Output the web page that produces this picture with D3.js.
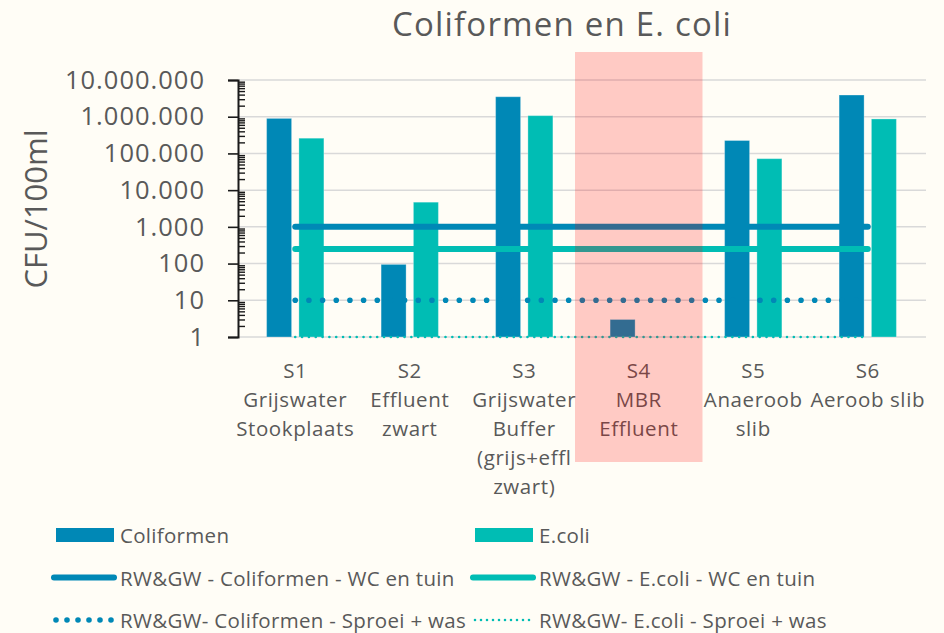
<!DOCTYPE html>
<html>
<head>
<meta charset="utf-8">
<script src="https://cdn.jsdelivr.net/npm/d3@7"></script>
<style>
  html, body { margin: 0; padding: 0; background: #fffdf6; }
  svg { display: block; }
  text { font-family: "Open Sans", "Noto Sans", sans-serif; fill: #595959; }
</style>
</head>
<body>
<svg id="chart" width="944" height="633"></svg>
<script>
// ---- data ----
const categories = ["S1", "S2", "S3", "S4", "S5", "S6"];
const categoryLabels = [
  ["S1", "Grijswater", "Stookplaats"],
  ["S2", "Effluent", "zwart"],
  ["S3", "Grijswater", "Buffer", "(grijs+effl", "zwart)"],
  ["S4", "MBR", "Effluent"],
  ["S5", "Anaeroob", "slib"],
  ["S6", "Aeroob slib"]
];
const coliformen = [900000, 95, 3500000, 3, 225000, 3900000];
const ecoli = [260000, 4700, 1070000, null, 72000, 870000];
const coliWC = [1000, 1000, 1000, 1000, 1000, 1000];
const ecoliWC = [250, 250, 250, 250, 250, 250];
const coliSproei = [10, 10, 10, 10, 10, 10];
const ecoliSproei = [1, 1, 1, 1, 1, 1];
const yTicks = [1, 10, 100, 1000, 10000, 100000, 1000000, 10000000];
const highlighted = "S4";
const title = "Coliformen en E. coli";
const yTitle = "CFU/100ml";
const barSeries = ["Coliformen", "E.coli"];
const lineSeriesNames = [
  "RW&GW - Coliformen - WC en tuin",
  "RW&GW - E.coli - WC en tuin",
  "RW&GW- Coliformen - Sproei + was",
  "RW&GW- E.coli - Sproei + was"
];

(function () {
// ---- styles ----
const C_COLI = "#0088b6";
const C_ECOLI = "#00bdb4";

const svg = d3.select("#chart");
const pLeft = 238, pRight = 925, pTop = 80, pBottom = 337;

const x = d3.scaleBand().domain(categories).range([pLeft, pRight]).padding(0);
const x1 = d3.scaleBand().domain(barSeries).range([-x.bandwidth() / 2 + 28.6, x.bandwidth() / 2 - 28.6]).paddingInner(0.226);
const y = d3.scaleLog().domain([1, 1e7]).range([pBottom, pTop]);

const nl = d3.formatLocale({ decimal: ",", thousands: ".", grouping: [3], currency: ["", ""] });
const fmt = nl.format(",d");

// background
svg.append("rect").attr("width", 944).attr("height", 633).attr("fill", "#fffdf6");

// gridlines
svg.append("g").selectAll("line").data(yTicks).join("line")
  .attr("x1", pLeft).attr("x2", pRight + 1)
  .attr("y1", d => y(d)).attr("y2", d => y(d))
  .attr("stroke", "#d9d9d9").attr("stroke-width", 1.5);

// bars
const barData = [];
categories.forEach((c, i) => {
  barData.push({ cat: c, s: "Coliformen", v: coliformen[i], color: C_COLI });
  barData.push({ cat: c, s: "E.coli", v: ecoli[i], color: C_ECOLI });
});
svg.append("g").selectAll("rect").data(barData.filter(d => d.v != null)).join("rect")
  .attr("x", d => x(d.cat) + x.bandwidth() / 2 + x1(d.s))
  .attr("width", x1.bandwidth())
  .attr("y", d => y(d.v))
  .attr("height", d => y(1) - y(d.v))
  .attr("fill", d => d.color)
  .attr("stroke", "rgba(255,255,255,0.3)").attr("stroke-width", 1);

// threshold lines
const cx = c => x(c) + x.bandwidth() / 2;
const line = d3.line().x((d, i) => cx(categories[i])).y(d => y(d));
const lineDefs = [
  { data: coliWC, color: C_COLI, w: 6, dash: null },
  { data: ecoliWC, color: C_ECOLI, w: 6, dash: null },
  { data: coliSproei, color: C_COLI, w: 5.6, dash: "0 13.67" },
  { data: ecoliSproei, color: C_ECOLI, w: 2.6, dash: "0 6.83" }
];
svg.append("g").selectAll("path").data(lineDefs).join("path")
  .attr("d", d => line(d.data))
  .attr("fill", "none")
  .attr("stroke", d => d.color)
  .attr("stroke-width", d => d.w)
  .attr("stroke-linecap", "round")
  .attr("stroke-dasharray", d => d.dash);

// y axis
const yAxis = svg.append("g").attr("transform", `translate(${pLeft},0)`)
  .call(d3.axisLeft(y).tickValues(yTicks).tickFormat(fmt).tickSize(10).tickPadding(23));
yAxis.select(".domain").attr("stroke", "#1a1a1a").attr("stroke-width", 2);
yAxis.selectAll(".tick line").attr("stroke", "#1a1a1a").attr("stroke-width", 1.6);
yAxis.selectAll(".tick text").attr("font-size", 25.5).attr("fill", "#595959")
  .attr("font-family", "'Open Sans', sans-serif").attr("letter-spacing", 1.0);

// minor ticks
const minor = y.ticks().filter(v => !yTicks.includes(v));
const minorAxis = svg.append("g").attr("transform", `translate(${pLeft},0)`)
  .call(d3.axisRight(y).tickValues(minor).tickFormat("").tickSize(7));
minorAxis.select(".domain").remove();
minorAxis.selectAll(".tick line").attr("stroke", "#1a1a1a").attr("stroke-width", 1.4);

// y title
svg.append("text")
  .attr("transform", "translate(47,209) rotate(-90)")
  .attr("text-anchor", "middle")
  .attr("font-size", 31)
  .text(yTitle);

// title
svg.append("text")
  .attr("x", 562).attr("y", 36)
  .attr("text-anchor", "middle")
  .attr("font-size", 33)
  .attr("letter-spacing", 1.2)
  .text(title);

// category labels
const catG = svg.append("g");
categoryLabels.forEach((lines, i) => {
  const t = catG.append("text")
    .attr("text-anchor", "middle")
    .attr("font-size", 20.5)
    .attr("letter-spacing", 0.6);
  lines.forEach((ln, j) => {
    t.append("tspan").attr("x", cx(categories[i])).attr("y", 378 + j * 29).text(ln);
  });
});

// legend
const legend = svg.append("g");
const legendItems = [
  { name: barSeries[0], type: "rect", color: C_COLI, col: 0, row: 0 },
  { name: barSeries[1], type: "rect", color: C_ECOLI, col: 1, row: 0 },
  { name: lineSeriesNames[0], type: "line", color: C_COLI, w: 6, dash: null, col: 0, row: 1 },
  { name: lineSeriesNames[1], type: "line", color: C_ECOLI, w: 6, dash: null, col: 1, row: 1 },
  { name: lineSeriesNames[2], type: "line", color: C_COLI, w: 5.6, dash: "0 11", col: 0, row: 2 },
  { name: lineSeriesNames[3], type: "line", color: C_ECOLI, w: 2.6, dash: "0 6", col: 1, row: 2 }
];
legendItems.forEach(it => {
  const gx = it.col === 0 ? 56 : 475;
  const gy = 535 + it.row * 42.5;
  const g = legend.append("g").attr("transform", `translate(${gx},${gy})`);
  if (it.type === "rect") {
    g.append("rect").attr("x", 0).attr("y", -7).attr("width", 58).attr("height", 14).attr("fill", it.color);
  } else {
    g.append("line").attr("x1", it.dash ? 0 : -2).attr("x2", it.dash ? 56 : 58).attr("y1", 0).attr("y2", 0)
      .attr("stroke", it.color).attr("stroke-width", it.w)
      .attr("stroke-linecap", "round").attr("stroke-dasharray", it.dash);
  }
  g.append("text").attr("x", 64).attr("y", 8).attr("font-size", 20.5).attr("letter-spacing", 0.3).text(it.name);
});

// highlight overlay
svg.append("rect")
  .attr("x", x(highlighted) - 6.5)
  .attr("width", x.bandwidth() + 13)
  .attr("y", 52).attr("height", 410)
  .attr("fill", "rgba(255,0,0,0.2)");
})();
</script>
</body>
</html>
